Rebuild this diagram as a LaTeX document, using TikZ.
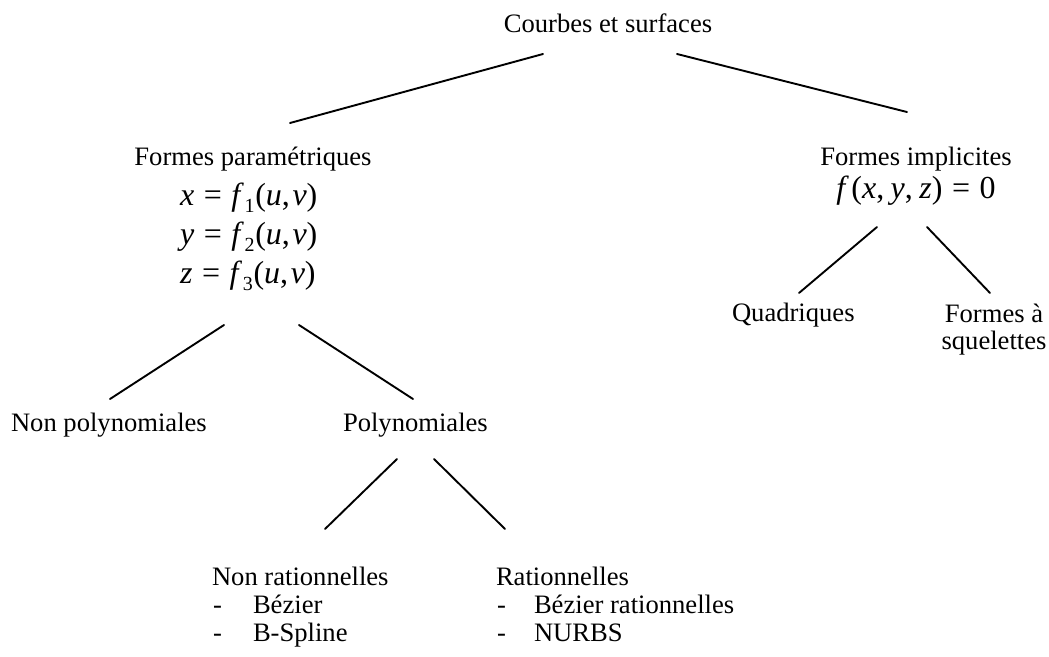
\documentclass[tikz,border=0pt]{standalone}
\usepackage{fontspec}
\setmainfont{Liberation Serif}
\newcommand\txtsize{\fontsize{26.6}{30}\selectfont}
\newcommand\eqsize{\fontsize{32}{36}\selectfont}
\newcommand\subnum[1]{\raisebox{-0.24em}{\fontsize{20}{20}\selectfont #1}}
\newcommand\eqline[2]{\textit{#1}\hspace{0.3em}=\hspace{0.3em}\textit{f}\kern0.02em\subnum{#2}\kern0.02em(\textit{u},\kern0.08em\textit{v})}
\tikzset{
  lbl/.style={inner sep=0pt, outer sep=0pt, font=\txtsize},
  eq/.style={inner sep=0pt, outer sep=0pt, font=\eqsize},
  link/.style={line width=1.9pt, line cap=round}
}
\begin{document}
\begin{tikzpicture}[x=1pt,y=-1pt]
\useasboundingbox (0,0) rectangle (1049,656);
% nodes
\node[lbl, anchor=base] (top) at (608,32) {Courbes et surfaces};
\node[lbl, anchor=base] (fp) at (253,165) {Formes paramétriques};
\node[eq, anchor=base west] (eqx) at (180,205) {\eqline{x}{1}};
\node[eq, anchor=base west] (eqy) at (180,244) {\eqline{y}{2}};
\node[eq, anchor=base west] (eqz) at (180,283) {\eqline{z}{3}};
\node[lbl, anchor=base] (fi) at (916,165) {Formes implicites};
\node[eq, anchor=base] (eqi) at (916,198) {\textit{f}\kern0.08em(\textit{x},\hspace{0.2em}\textit{y},\hspace{0.2em}\textit{z})\hspace{0.3em}=\hspace{0.3em}0};
\node[lbl, anchor=base west] (quad) at (732,321) {Quadriques};
\node[lbl, anchor=base] (fa) at (994,322) {Formes à};
\node[lbl, anchor=base] (sq) at (994,349) {squelettes};
\node[lbl, anchor=base west] (npoly) at (11,431) {Non polynomiales};
\node[lbl, anchor=base west] (poly) at (343,431) {Polynomiales};
\node[lbl, anchor=base west] (nrat) at (212,585) {Non rationnelles};
\node[lbl, anchor=base west] (d1) at (213,613) {-};
\node[lbl, anchor=base west] (bez) at (253,613) {Bézier};
\node[lbl, anchor=base west] (d2) at (213,641) {-};
\node[lbl, anchor=base west] (bsp) at (253,641) {B-Spline};
\node[lbl, anchor=base west] (rat) at (496,585) {Rationnelles};
\node[lbl, anchor=base west] (d3) at (497,613) {-};
\node[lbl, anchor=base west] (bezr) at (534,613) {Bézier rationnelles};
\node[lbl, anchor=base west] (d4) at (497,641) {-};
\node[lbl, anchor=base west] (nurbs) at (534,641) {NURBS};
% connector end points
\coordinate (top-l) at (543,54);
\coordinate (top-r) at (677,54);
\coordinate (fp-in) at (290,123);
\coordinate (fi-in) at (907,112);
\coordinate (eqz-l) at (224,325);
\coordinate (eqz-r) at (299,325);
\coordinate (npoly-in) at (110,399);
\coordinate (poly-in) at (413,399);
\coordinate (poly-l) at (397,459);
\coordinate (poly-r) at (434,459);
\coordinate (nrat-in) at (325,529);
\coordinate (rat-in) at (505,529);
\coordinate (eqi-l) at (877,227);
\coordinate (eqi-r) at (927,227);
\coordinate (quad-in) at (799,293);
\coordinate (fa-in) at (990,293);
% connectors
\draw[link] (top-l) -- (fp-in);
\draw[link] (top-r) -- (fi-in);
\draw[link] (eqz-l) -- (npoly-in);
\draw[link] (eqz-r) -- (poly-in);
\draw[link] (poly-l) -- (nrat-in);
\draw[link] (poly-r) -- (rat-in);
\draw[link] (eqi-l) -- (quad-in);
\draw[link] (eqi-r) -- (fa-in);
\end{tikzpicture}
\end{document}
